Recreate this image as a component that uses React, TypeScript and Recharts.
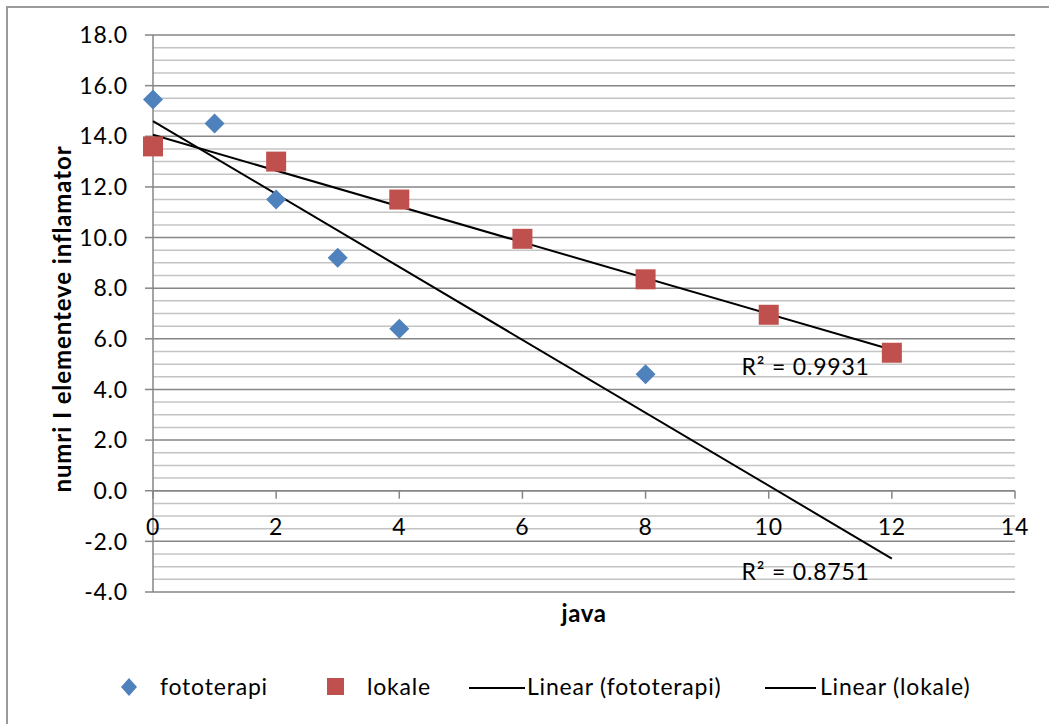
import React from "react";
import {
  ScatterChart,
  Scatter,
  XAxis,
  YAxis,
  CartesianGrid,
  ReferenceLine,
  ReferenceDot,
  Legend,
} from "recharts";

// data
const fototerapiX = [0, 1, 2, 3, 4, 8];
const fototerapiY = [15.45, 14.5, 11.5, 9.2, 6.4, 4.6];
const lokaleX = [0, 2, 4, 6, 8, 10, 12];
const lokaleY = [13.6, 13.0, 11.5, 9.95, 8.35, 6.95, 5.45];

// trendline ends (x = 0 and x = 12)
const trendX = [0, 12];
const trendFotoY = [14.6, -2.68];
const trendLokaleY = [14.06, 5.57];

const xTicks = [0, 2, 4, 6, 8, 10, 12, 14];
const yTicks = [-4, -2, 0, 2, 4, 6, 8, 10, 12, 14, 16, 18];
const yMinorTicks = [
  -3.5, -3, -2.5, -1.5, -1, -0.5, 0.5, 1, 1.5, 2.5, 3, 3.5, 4.5, 5, 5.5, 6.5, 7, 7.5,
  8.5, 9, 9.5, 10.5, 11, 11.5, 12.5, 13, 13.5, 14.5, 15, 15.5, 16.5, 17, 17.5,
];
const r2Text = ["R\u00b2 = 0.9931", "R\u00b2 = 0.8751"];
const r2Pos = [
  { x: 10.6, y: 4.89 },
  { x: 10.6, y: -3.22 },
];

const toPoints = (xs: number[], ys: number[]) => xs.map((x, i) => ({ x, y: ys[i] }));

const FONT = "Lato, 'Open Sans', sans-serif";
const FS = 23;
const LS = 0.8;
const BLUE = "#4F81BD";
const RED = "#C0504D";
const AXIS = "#868686";
const MINOR = "#C4C4C4";

const W = 1041;
const H = 716;
const Y_MIN = -4;
const Y_MAX = 18;
const PLOT_H = 557;
const ZERO_SHIFT = (PLOT_H * (0 - Y_MIN)) / (Y_MAX - Y_MIN);

const Diamond = (props: any) => {
  const { cx, cy } = props;
  const s = 10;
  return <path d={`M${cx},${cy - s}L${cx + s},${cy}L${cx},${cy + s}L${cx - s},${cy}Z`} fill={BLUE} />;
};

const Square = (props: any) => {
  const { cx, cy } = props;
  return <rect x={cx - 10} y={cy - 10} width={20} height={20} fill={RED} />;
};

const NoDot = () => <g />;

const XTick = (props: any) => {
  const { x, y, payload } = props;
  const zy = y - ZERO_SHIFT;
  return (
    <g>
      <line x1={x} x2={x} y1={zy} y2={zy + 8} stroke={AXIS} strokeWidth={1.5} />
      <text x={x} y={zy + 44} textAnchor="middle" fontSize={FS} letterSpacing={LS} fontFamily={FONT} fill="#000">
        {payload.value}
      </text>
    </g>
  );
};

const LegendContent = () => {
  const text: React.CSSProperties = {
    position: "absolute",
    top: 6,
    fontSize: FS,
    letterSpacing: LS,
    lineHeight: "27px",
    fontFamily: FONT,
    color: "#000",
    whiteSpace: "nowrap",
  };
  const line = (left: number, width: number): React.CSSProperties => ({
    position: "absolute",
    left,
    top: 20,
    width,
    height: 0,
    borderTop: "2px solid #000",
  });
  return (
    <div style={{ position: "relative", width: W, height: 40 }}>
      <svg style={{ position: "absolute", left: 112, top: 11 }} width={18} height={18}>
        <path d="M9,0L17,9L9,18L1,9Z" fill={BLUE} />
      </svg>
      <span style={{ ...text, left: 152 }}>fototerapi</span>
      <svg style={{ position: "absolute", left: 319, top: 11 }} width={17} height={17}>
        <rect x={0} y={0} width={17} height={17} fill={RED} />
      </svg>
      <span style={{ ...text, left: 359 }}>lokale</span>
      <div style={line(461, 56)} />
      <span style={{ ...text, left: 519 }}>Linear (fototerapi)</span>
      <div style={line(757, 51)} />
      <span style={{ ...text, left: 812 }}>Linear (lokale)</span>
    </div>
  );
};

export default function App() {
  return (
    <div style={{ position: "fixed", left: 0, top: 0, width: 1049, height: 724, overflow: "hidden", background: "#fff" }}>
      <div
        style={{
          position: "absolute",
          left: 6,
          top: 6,
          borderTop: "2px solid #9a9a9a",
          borderLeft: "2px solid #9a9a9a",
        }}
      >
        <ScatterChart width={W} height={H} margin={{ top: 27, right: 34, left: 0, bottom: 42 }}>
          <CartesianGrid horizontalValues={yMinorTicks} vertical={false} stroke={MINOR} strokeWidth={1.5} />
          <CartesianGrid vertical={false} stroke={AXIS} strokeWidth={1.5} />
          <XAxis
            type="number"
            dataKey="x"
            domain={[0, 14]}
            ticks={xTicks}
            interval={0}
            axisLine={false}
            tickLine={false}
            tickSize={0}
            tickMargin={0}
            height={50}
            tick={<XTick />}
            label={() => (
              <text
                x={145 + 862 / 2}
                y={584 + 30}
                textAnchor="middle"
                fontSize={24}
                letterSpacing={0.6}
                fontWeight="bold"
                fontFamily={FONT}
                fill="#000"
              >
                java
              </text>
            )}
          />
          <YAxis
            type="number"
            dataKey="y"
            domain={[Y_MIN, Y_MAX]}
            ticks={yTicks}
            interval={0}
            width={145}
            stroke={AXIS}
            strokeWidth={1.5}
            tickSize={8}
            tickMargin={17}
            tickFormatter={(v: number) => v.toFixed(1)}
            tick={{ fontSize: FS, fontFamily: FONT, fill: "#000", letterSpacing: LS }}
            label={() => (
              <text
                x={53}
                y={311}
                transform="rotate(-90 53 311)"
                textAnchor="middle"
                dominantBaseline="central"
                fontSize={24}
                letterSpacing={0.9}
                fontWeight="bold"
                fontFamily={FONT}
                fill="#000"
              >
                numri I elementeve inflamator
              </text>
            )}
          />
          <ReferenceLine y={0} stroke={AXIS} strokeWidth={1.5} />
          <Scatter
            name="Linear (fototerapi)"
            data={toPoints(trendX, trendFotoY)}
            line={{ stroke: "#000", strokeWidth: 2 }}
            shape={<NoDot />}
            isAnimationActive={false}
          />
          <Scatter
            name="Linear (lokale)"
            data={toPoints(trendX, trendLokaleY)}
            line={{ stroke: "#000", strokeWidth: 2 }}
            shape={<NoDot />}
            isAnimationActive={false}
          />
          <Scatter name="fototerapi" data={toPoints(fototerapiX, fototerapiY)} shape={<Diamond />} isAnimationActive={false} />
          <Scatter name="lokale" data={toPoints(lokaleX, lokaleY)} shape={<Square />} isAnimationActive={false} />
          {r2Text.map((t, i) => (
            <ReferenceDot
              key={t}
              x={r2Pos[i].x}
              y={r2Pos[i].y}
              r={0}
              fill="none"
              stroke="none"
              label={{ value: t, position: "center", fontSize: FS, letterSpacing: LS, fontFamily: FONT, fill: "#000" }}
            />
          ))}
          <Legend content={<LegendContent />} wrapperStyle={{ left: 0, top: 659, width: W, height: 40 }} />
        </ScatterChart>
      </div>
    </div>
  );
}
